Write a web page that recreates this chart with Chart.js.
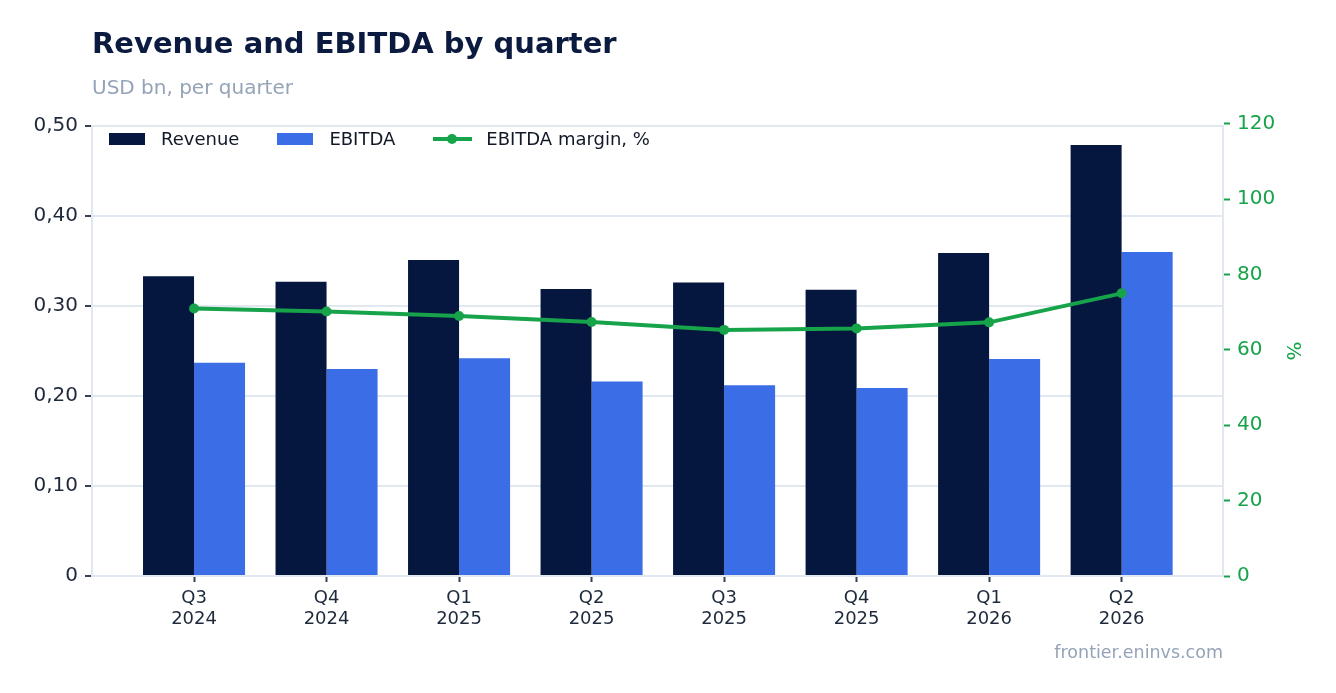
<!DOCTYPE html>
<html>
<head>
<meta charset="utf-8">
<title>Revenue and EBITDA by quarter</title>
<script src="https://cdn.jsdelivr.net/npm/chart.js@4.4.1/dist/chart.umd.min.js"></script>
<style>
    body { margin: 0; background: #fff; font-family: 'DejaVu Sans', sans-serif; }
    #wrap { position: relative; width: 1336px; height: 693px; overflow: hidden; }
    #chart { position: absolute; left: 0; top: 0; }
    .title { position: absolute; left: 92px; top: 26px; font-size: 29px; line-height: 34px; font-weight: bold; color: #0b1a3f; white-space: nowrap; }
    .subtitle { position: absolute; left: 92px; top: 76px; font-size: 20px; line-height: 23px; color: #94a3b8; white-space: nowrap; }
    .source { position: absolute; right: 113px; top: 642px; font-size: 17.5px; line-height: 20px; color: #94a3b8; white-space: nowrap; }
    #legend { position: absolute; left: 109px; top: 128px; display: flex; align-items: center; gap: 38px; font-size: 18px; line-height: 22px; color: #111827; }
    #legend .item { display: flex; align-items: center; white-space: nowrap; }
    #legend .box { width: 36px; height: 12px; margin-right: 16px; }
    #legend .line { position: relative; width: 39px; height: 4px; margin-right: 14px; }
    #legend .line span { position: absolute; left: 14px; top: -3px; width: 10px; height: 10px; border-radius: 50%; }
</style>
</head>
<body>
<div id="wrap">
    <canvas id="chart" width="1336" height="693"></canvas>
    <div class="title">Revenue and EBITDA by quarter</div>
    <div class="subtitle">USD bn, per quarter</div>
    <div id="legend"></div>
    <div class="source">frontier.eninvs.com</div>
</div>
<script>
// Chart data
const quarters = ['Q3 2024', 'Q4 2024', 'Q1 2025', 'Q2 2025', 'Q3 2025', 'Q4 2025', 'Q1 2026', 'Q2 2026'];
const revenue = [0.333, 0.327, 0.351, 0.319, 0.326, 0.318, 0.359, 0.479];
const ebitda = [0.237, 0.230, 0.242, 0.216, 0.212, 0.209, 0.241, 0.360];
const ebitdaMargin = [71.0, 70.2, 69.0, 67.4, 65.3, 65.7, 67.3, 75.0];
const usdTicks = [0, 0.1, 0.2, 0.3, 0.4, 0.5];
const pctTicks = [0, 20, 40, 60, 80, 100, 120];

const NAVY = '#05173f';
const BLUE = '#3b6de6';
const GREEN = '#16a34a';
const GRID = '#e2e8f0';
const TEXT = '#1e293b';

Chart.defaults.font.family = "'DejaVu Sans', sans-serif";

const toPoints = arr => arr.map((v, i) => ({ x: i, y: v }));

const ctx = document.getElementById('chart');

const chart = new Chart(ctx, {
    type: 'bar',
    data: {
        datasets: [{
            label: 'Revenue',
            data: toPoints(revenue),
            backgroundColor: NAVY,
            yAxisID: 'y',
            order: 1,
            categoryPercentage: 0.77,
            barPercentage: 1.0
        }, {
            label: 'EBITDA',
            data: toPoints(ebitda),
            backgroundColor: BLUE,
            yAxisID: 'y',
            order: 1,
            categoryPercentage: 0.77,
            barPercentage: 1.0
        }, {
            type: 'line',
            label: 'EBITDA margin, %',
            data: toPoints(ebitdaMargin),
            borderColor: GREEN,
            backgroundColor: GREEN,
            borderWidth: 4,
            pointRadius: 5,
            pointBorderWidth: 0,
            pointBackgroundColor: GREEN,
            tension: 0,
            yAxisID: 'y1',
            order: 0
        }]
    },
    options: {
        responsive: false,
        animation: false,
        layout: {
            padding: { top: 126, left: 0, right: 0, bottom: 0 }
        },
        plugins: {
            legend: { display: false },
            tooltip: { enabled: false }
        },
        scales: {
            x: {
                type: 'linear',
                offset: false,
                min: -0.77,
                max: 7.765,
                afterBuildTicks: scale => {
                    scale.ticks = quarters.map((q, i) => ({ value: i }));
                },
                afterFit: scale => {
                    scale.height = 117;
                },
                grid: {
                    offset: false,
                    drawOnChartArea: false,
                    tickLength: 6,
                    tickWidth: 2,
                    tickColor: '#374151'
                },
                border: { color: GRID, width: 2 },
                ticks: {
                    autoSkip: false,
                    maxRotation: 0,
                    padding: 6,
                    color: TEXT,
                    font: { size: 18, lineHeight: 1.17 },
                    callback: value => quarters[value] ? quarters[value].split(' ') : ''
                }
            },
            y: {
                position: 'left',
                min: 0,
                max: 0.5,
                afterBuildTicks: scale => {
                    scale.ticks = usdTicks.map(v => ({ value: v }));
                },
                afterFit: scale => {
                    scale.width = 92;
                },
                grid: {
                    color: GRID,
                    lineWidth: 2,
                    tickLength: 7,
                    tickColor: '#374151'
                },
                border: { color: GRID, width: 2 },
                ticks: {
                    padding: 7,
                    color: TEXT,
                    font: { size: 20 },
                    callback: value => value === 0 ? '0' : value.toFixed(2).replace('.', ',')
                }
            },
            y1: {
                position: 'right',
                min: 0,
                max: 119.4,
                afterBuildTicks: scale => {
                    scale.ticks = pctTicks.map(v => ({ value: v }));
                },
                afterFit: scale => {
                    scale.width = 113;
                },
                grid: {
                    drawOnChartArea: false,
                    tickLength: 7,
                    tickWidth: 2,
                    tickColor: GREEN
                },
                border: { color: GRID, width: 2 },
                ticks: {
                    padding: 7,
                    color: GREEN,
                    font: { size: 20 }
                },
                title: {
                    display: true,
                    text: '%',
                    color: GREEN,
                    font: { size: 20 },
                    padding: { top: 32, bottom: 0 }
                }
            }
        }
    }
});

// HTML legend placed inside the plot area
const legendEl = document.getElementById('legend');
chart.data.datasets.forEach(ds => {
    const item = document.createElement('div');
    item.className = 'item';
    const mark = document.createElement('div');
    if (ds.type === 'line') {
        mark.className = 'line';
        mark.style.background = ds.borderColor;
        const dot = document.createElement('span');
        dot.style.background = ds.borderColor;
        mark.appendChild(dot);
    } else {
        mark.className = 'box';
        mark.style.background = ds.backgroundColor;
    }
    const label = document.createElement('span');
    label.textContent = ds.label;
    item.appendChild(mark);
    item.appendChild(label);
    legendEl.appendChild(item);
});
</script>
</body>
</html>
